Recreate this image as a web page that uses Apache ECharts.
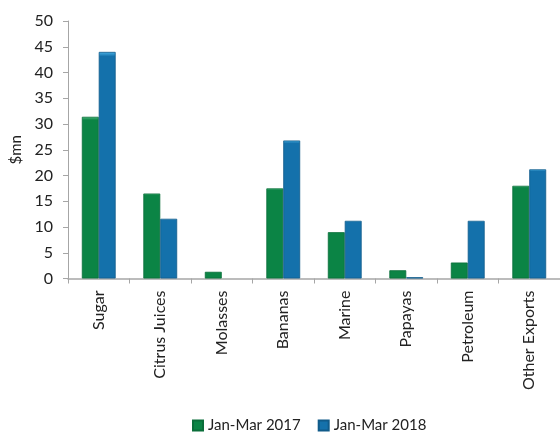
<!DOCTYPE html>
<html>
<head>
<meta charset="utf-8">
<script src="https://cdn.jsdelivr.net/npm/echarts@6/dist/echarts.min.js"></script>
<style>
  html, body { margin: 0; padding: 0; background: #fff; }
  #chart { width: 560px; height: 432px; }
</style>
</head>
<body>
<div id="chart"></div>
<script>
// categories and values ($mn)
const categories = ['Sugar', 'Citrus Juices', 'Molasses', 'Bananas', 'Marine', 'Papayas', 'Petroleum', 'Other Exports'];
const q1_2017 = [31.4, 16.5, 1.3, 17.5, 9.0, 1.6, 3.1, 18.0];
const q1_2018 = [44.0, 11.6, 0, 26.8, 11.2, 0.25, 11.2, 21.2];
const seriesNames = ['Jan-Mar 2017', 'Jan-Mar 2018'];

const font = 'Lato, "Open Sans", sans-serif';

// bevelled bar look: light top edge, darker body
function barFill(light, base) {
  return new echarts.graphic.LinearGradient(0, 0, 0, 1, [
    { offset: 0, color: light },
    { offset: 0.02, color: base },
    { offset: 1, color: base }
  ]);
}

// zero values get no outline so nothing shows on the axis
function barData(values) {
  return values.map(v => v === 0 ? { value: v, itemStyle: { borderWidth: 0 } } : v);
}

const chart = echarts.init(document.getElementById('chart'));

chart.setOption({
  animation: false,
  textStyle: { fontFamily: font },
  grid: { left: 68, right: 0, top: 21, bottom: 153.5 },
  legend: {
    top: 413,
    left: 187,
    itemWidth: 10,
    itemHeight: 10,
    itemGap: 17,
    textStyle: { fontSize: 15, color: '#222', fontFamily: font },
    data: [
      { name: seriesNames[0], icon: 'rect', itemStyle: { color: '#0b8445' } },
      { name: seriesNames[1], icon: 'rect', itemStyle: { color: '#1471ab' } }
    ]
  },
  xAxis: {
    type: 'category',
    data: categories,
    axisLine: { lineStyle: { color: '#a6a6a6', width: 1.5 } },
    axisTick: { show: true, length: 5, lineStyle: { color: '#a6a6a6' } },
    axisLabel: { rotate: 90, margin: 12, fontSize: 16, color: '#222', fontFamily: font }
  },
  yAxis: {
    type: 'value',
    min: 0,
    max: 50,
    interval: 5,
    name: '$mn',
    nameLocation: 'middle',
    nameGap: 44,
    nameRotate: 90,
    nameTextStyle: { fontSize: 15, color: '#222', fontFamily: font },
    axisLine: { show: true, lineStyle: { color: '#a6a6a6' } },
    axisTick: { show: true, length: 5, lineStyle: { color: '#a6a6a6' } },
    axisLabel: { margin: 15, fontSize: 16, color: '#222', fontFamily: font },
    splitLine: { show: false }
  },
  series: [
    {
      name: seriesNames[0],
      type: 'bar',
      data: barData(q1_2017),
      barGap: '0%',
      barCategoryGap: '45%',
      itemStyle: { color: barFill('#4dbb7e', '#0b8445'), borderColor: '#0a6e3a', borderWidth: 0.8 }
    },
    {
      name: seriesNames[1],
      type: 'bar',
      data: barData(q1_2018),
      barGap: '0%',
      barCategoryGap: '45%',
      itemStyle: { color: barFill('#4ab3e8', '#1471ab'), borderColor: '#105b8a', borderWidth: 0.8 }
    }
  ]
});
</script>
</body>
</html>
